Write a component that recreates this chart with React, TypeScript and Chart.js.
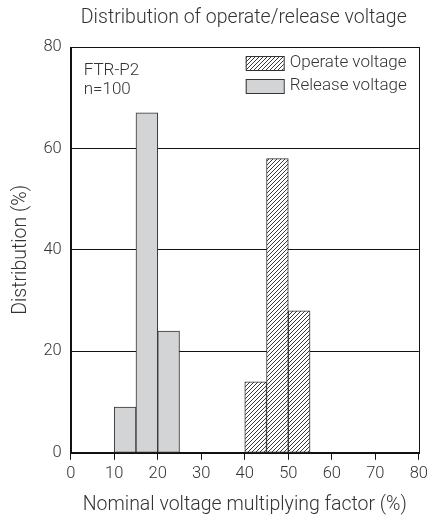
import React, { useEffect, useRef } from 'react';
import { Chart, registerables } from 'chart.js';

Chart.register(...registerables);

const chartTitle = 'Distribution of operate/release voltage';
const xAxisTitle = 'Nominal voltage multiplying factor (%)';
const yAxisTitle = 'Distribution (%)';
const noteLines = ['FTR-P2', 'n=100'];
const seriesNames = ['Operate voltage', 'Release voltage'];

// bin centres (bins are 5 % wide)
const releaseBins = [12.5, 17.5, 22.5];
const releaseValues = [9, 67, 24];
const operateBins = [42.5, 47.5, 52.5];
const operateValues = [14, 58, 28];

const xMin = 0;
const xMax = 80;
const xStep = 10;
const yMin = 0;
const yMax = 80;
const yStep = 20;

const FONT = 'Roboto, "Noto Sans", sans-serif';
const TEXT = '#333';

function makeHatch(): CanvasPattern | string {
  const c = document.createElement('canvas');
  c.width = 4;
  c.height = 4;
  const g = c.getContext('2d');
  if (!g) return '#fff';
  g.fillStyle = '#ffffff';
  g.fillRect(0, 0, 4, 4);
  g.strokeStyle = '#222';
  g.lineWidth = 0.9;
  g.beginPath();
  g.moveTo(-1, 5);
  g.lineTo(5, -1);
  g.moveTo(-1, 1);
  g.lineTo(1, -1);
  g.moveTo(3, 5);
  g.lineTo(5, 3);
  g.stroke();
  const p = g.createPattern(c, 'repeat');
  return p || '#fff';
}

export default function App() {
  const ref = useRef<HTMLCanvasElement | null>(null);

  useEffect(() => {
    if (!ref.current) return;
    const hatch = makeHatch();

    const overlay = {
      id: 'overlay',
      afterDraw(chart: any) {
        const { ctx, chartArea } = chart;
        const { left, top, right, bottom } = chartArea;
        ctx.save();
        // frame
        ctx.strokeStyle = '#111';
        ctx.lineWidth = 1;
        ctx.strokeRect(Math.round(left) + 0.5, Math.round(top) + 0.5, Math.round(right - left), Math.round(bottom - top));

        // title
        ctx.fillStyle = TEXT;
        ctx.font = `300 19.5px ${FONT}`;
        ctx.textAlign = 'center';
        ctx.textBaseline = 'middle';
        ctx.fillText(chartTitle, (left + right) / 2 - 1, 18);

        // note text
        ctx.font = `300 17px ${FONT}`;
        ctx.textAlign = 'left';
        ctx.fillText(noteLines[0], left + 13, top + 24);
        ctx.fillText(noteLines[1], left + 13, top + 43);

        // legend
        const bx = left + 175;
        const bw = 38;
        const bh = 14;
        const rows = [
          { y: top + 16, fill: hatch, label: seriesNames[0] },
          { y: top + 39, fill: '#d3d4d6', label: seriesNames[1] },
        ];
        rows.forEach((r) => {
          ctx.fillStyle = r.fill as any;
          ctx.fillRect(bx, r.y - bh / 2, bw, bh);
          ctx.strokeStyle = '#333';
          ctx.lineWidth = 1;
          ctx.strokeRect(bx + 0.5, Math.round(r.y - bh / 2) + 0.5, bw, bh);
          ctx.fillStyle = TEXT;
          ctx.fillText(r.label, bx + bw + 6, r.y);
        });
        ctx.restore();
      },
    };

    const chart = new Chart(ref.current, {
      type: 'bar',
      data: {
        datasets: [
          {
            label: seriesNames[1],
            data: releaseBins.map((x, i) => ({ x, y: releaseValues[i] })),
            backgroundColor: '#d3d4d6',
            borderColor: '#333',
            borderWidth: 1,
            borderSkipped: false,
          },
          {
            label: seriesNames[0],
            data: operateBins.map((x, i) => ({ x, y: operateValues[i] })),
            backgroundColor: hatch as any,
            borderColor: '#333',
            borderWidth: 1,
            borderSkipped: false,
          },
        ],
      },
      options: {
        animation: false,
        responsive: false,
        maintainAspectRatio: false,
        grouped: false,
        barPercentage: 1,
        categoryPercentage: 1,
        layout: { autoPadding: false, padding: { left: 5, right: 12, top: 47, bottom: 2 } },
        plugins: {
          legend: { display: false },
          tooltip: { enabled: false },
          title: { display: false },
        },
        scales: {
          x: {
            type: 'linear',
            min: xMin,
            max: xMax,
            offset: false,
            ticks: { stepSize: xStep, color: TEXT, font: { family: FONT, size: 16.5, weight: '300' }, padding: 4 },
            grid: { offset: false, drawOnChartArea: false, drawTicks: true, tickLength: 7, color: '#111' },
            border: { display: true, color: '#111' },
            title: { display: true, text: xAxisTitle, color: TEXT, font: { family: FONT, size: 19.5, weight: '300' }, padding: { top: 6 } },
          },
          y: {
            min: yMin,
            max: yMax,
            ticks: { stepSize: yStep, color: TEXT, font: { family: FONT, size: 16.5, weight: '300' }, padding: 9 },
            grid: { drawTicks: false, color: '#111' },
            border: { display: true, color: '#111' },
            title: { display: true, text: yAxisTitle, color: TEXT, font: { family: FONT, size: 19.5, weight: '300' }, padding: { bottom: 2 } },
          },
        },
      },
      plugins: [overlay],
    } as any);
    return () => chart.destroy();
  }, []);

  return (
    <div style={{ position: 'fixed', left: 0, top: 0, width: 432, height: 523, background: '#fff' }}>
      <canvas ref={ref} width={432} height={523} style={{ display: 'block' }} />
    </div>
  );
}
